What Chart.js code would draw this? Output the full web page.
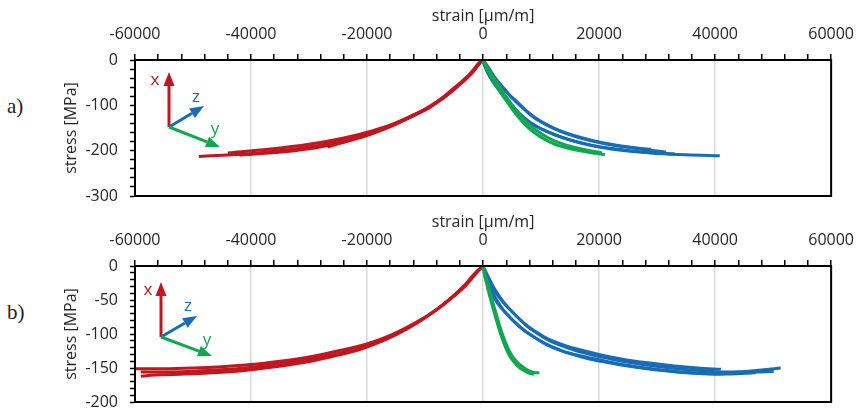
<!DOCTYPE html>
<html>
<head>
<meta charset="utf-8">
<script src="https://cdn.jsdelivr.net/npm/chart.js@4"></script>
<style>
  body { margin: 0; background: #fff; width: 866px; height: 410px; position: relative; overflow: hidden; }
  canvas { position: absolute; left: 0; }
  .tag { position: absolute; left: 7px; font-family: 'Liberation Serif', serif; font-size: 21px; color: #222; }
</style>
</head>
<body>
<div class="tag" style="top:94px">a)</div>
<canvas id="chartA" width="866" height="206" style="top:0"></canvas>
<div class="tag" style="top:300px">b)</div>
<canvas id="chartB" width="866" height="204" style="top:206px"></canvas>
<script>
// strain [µm/m], stress [MPa] pairs
const aRed1 = [[0,0],[-600,-8],[-1700,-26],[-3000,-43],[-4700,-62],[-6300,-79],[-8700,-100],[-12000,-121],[-15500,-141],[-19300,-157],[-24000,-172],[-30000,-186],[-37000,-197],[-44000,-205]];
const aRed2 = [[0,0],[-700,-8],[-1850,-26],[-3200,-44],[-5000,-64],[-6700,-82],[-9100,-104],[-12500,-126],[-16100,-147],[-19900,-164],[-25000,-180],[-31200,-194],[-39800,-206],[-49000,-213]];
const aRed3 = [[0,0],[-800,-8],[-2000,-27],[-3500,-46],[-5400,-67],[-7200,-86],[-9700,-107],[-13100,-130],[-16900,-152],[-20800,-170],[-26000,-187],[-32500,-200],[-42000,-210]];
const aRed4 = [[0,0],[-750,-8],[-1900,-26],[-3300,-44],[-5200,-64],[-6900,-82],[-9400,-104],[-12800,-127],[-16500,-148],[-20400,-166],[-24000,-181],[-26800,-192]];
const aGreen1 = [[0,0],[300,-10],[1000,-28],[2000,-50],[3050,-71],[4500,-99],[5900,-123],[7300,-143],[8800,-160],[10500,-174],[12200,-185],[14500,-194],[17000,-201],[19500,-206],[21000,-209]];
const aGreen2 = [[0,0],[500,-10],[1300,-28],[2400,-50],[3500,-72],[5000,-99],[6500,-123],[8000,-143],[9600,-159],[11300,-172],[13200,-183],[15500,-192],[18000,-199],[20500,-205]];
const aBlue1 = [[0,0],[500,-12],[1500,-33],[3000,-55],[4500,-76],[6000,-94],[8000,-118],[10000,-136],[12500,-152],[15500,-166],[19000,-178],[23000,-188],[26500,-194],[29000,-197]];
const aBlue2 = [[0,0],[800,-14],[1900,-36],[3400,-60],[5000,-84],[6600,-103],[8600,-125],[10800,-142],[13400,-158],[16500,-171],[20000,-182],[24000,-191],[28000,-198],[31500,-203]];
const aBlue3 = [[0,0],[300,-14],[1200,-38],[2700,-66],[4200,-92],[5800,-114],[7800,-136],[10000,-152],[12600,-166],[15800,-179],[19500,-190],[24000,-198],[28500,-204],[33000,-207]];
const aBlue4 = [[0,0],[600,-18],[1600,-42],[3100,-70],[4700,-96],[6300,-118],[8400,-140],[10700,-156],[13400,-170],[16800,-183],[20500,-193],[25000,-201],[30000,-206],[35000,-209],[40800,-211]];

const bRed1 = [[0,0],[-900,-8],[-3000,-29],[-6300,-53],[-9000,-70],[-12000,-85],[-15500,-100],[-19500,-113],[-24500,-124],[-29500,-133],[-35000,-140],[-40000,-145],[-45000,-148],[-50000,-150],[-55000,-151],[-60000,-151]];
const bRed2 = [[0,0],[-1000,-8],[-3300,-30],[-6700,-56],[-9500,-73],[-12600,-89],[-16000,-104],[-20300,-118],[-25000,-129],[-30500,-138],[-36000,-145],[-41000,-150],[-46000,-153],[-51000,-155],[-59000,-156]];
const bRed3 = [[0,0],[-1100,-8],[-3500,-31],[-7100,-58],[-10000,-76],[-13200,-93],[-16700,-108],[-21000,-122],[-26000,-133],[-31000,-142],[-36500,-149],[-41500,-154],[-46500,-157],[-51500,-159],[-56000,-160],[-59000,-162]];
const bGreen1 = [[0,0],[300,-10],[700,-22],[1340,-43],[1900,-60],[2490,-77],[3050,-93],[3630,-107],[4200,-119],[4770,-129],[5600,-139],[6480,-146],[7300,-151],[8200,-155],[9000,-157],[9700,-157]];
const bGreen2 = [[0,0],[200,-10],[500,-22],[1100,-43],[1650,-60],[2250,-78],[2800,-94],[3350,-108],[3900,-120],[4500,-131],[5300,-141],[6200,-149],[7100,-154],[8000,-158],[8800,-159]];
const bBlue1 = [[0,0],[600,-14],[1500,-30],[3050,-49],[4500,-63],[5900,-75],[7300,-86],[8770,-95],[10500,-104],[12200,-111],[14200,-117],[16200,-122],[20000,-130],[24000,-137],[28000,-142],[33000,-147],[37000,-150],[41000,-152]];
const bBlue2 = [[0,0],[900,-16],[2000,-34],[3500,-53],[5000,-67],[6400,-79],[7800,-90],[9300,-99],[11000,-108],[12800,-115],[14800,-121],[17000,-127],[20500,-134],[24500,-141],[28500,-146],[33500,-151],[38000,-154],[42000,-156],[46000,-156],[50100,-155]];
const bBlue3 = [[0,0],[400,-18],[1200,-36],[2600,-56],[4100,-71],[5600,-84],[7100,-95],[8700,-104],[10400,-113],[12300,-120],[14400,-127],[16700,-132],[20000,-138],[24000,-145],[28000,-150],[33000,-155],[38000,-158],[41000,-159],[44500,-158],[47000,-157]];
const bBlue4 = [[0,0],[700,-20],[1700,-40],[3100,-60],[4700,-76],[6200,-88],[7800,-99],[9500,-108],[11300,-117],[13300,-124],[15500,-130],[18000,-136],[21500,-142],[25500,-148],[30000,-153],[35000,-157],[40000,-159],[44000,-156],[48000,-153],[51300,-150]];

const xTickLabels = [-60000, -40000, -20000, 0, 20000, 40000, 60000];
const yTickLabelsA = [0, -100, -200, -300];
const yTickLabelsB = [0, -50, -100, -150, -200];

const RED = '#C0161F';
const GREEN = '#13A650';
const BLUE = '#176CB5';
const TEXT = '#262626';
const FONT = "'Open Sans', sans-serif";

const framePlugin = {
    id: 'frame',
    afterDatasetsDraw(chart) {
        const { ctx, chartArea: a } = chart;
        ctx.save();
        ctx.strokeStyle = '#000';
        ctx.lineWidth = 2;
        ctx.strokeRect(a.left, a.top, a.right - a.left, a.bottom - a.top);
        ctx.restore();
    }
};

function drawArrow(ctx, x0, y0, x1, y1, color) {
    const ang = Math.atan2(y1 - y0, x1 - x0);
    const head = 14, half = 5.5;
    const bx = x1 - head * Math.cos(ang), by = y1 - head * Math.sin(ang);
    ctx.strokeStyle = color;
    ctx.lineWidth = 3;
    ctx.beginPath();
    ctx.moveTo(x0, y0);
    ctx.lineTo(bx, by);
    ctx.stroke();
    ctx.fillStyle = color;
    ctx.beginPath();
    ctx.moveTo(x1, y1);
    ctx.lineTo(bx + half * Math.sin(ang), by - half * Math.cos(ang));
    ctx.lineTo(bx - half * Math.sin(ang), by + half * Math.cos(ang));
    ctx.closePath();
    ctx.fill();
}

// little x/y/z orientation sketch in the top-left corner of each panel
const axesIconPlugin = {
    id: 'axesIcon',
    afterDatasetsDraw(chart, args, opts) {
        const { ctx, chartArea: a } = chart;
        const p = (q) => [a.left + q[0], a.top + q[1]];
        const o = p(opts.origin);
        ctx.save();
        [['x', RED], ['z', BLUE], ['y', GREEN]].forEach(([k, c]) => {
            const t = p(opts.tips[k]);
            drawArrow(ctx, o[0], o[1], t[0], t[1], c);
            const l = p(opts.labels[k]);
            ctx.fillStyle = c;
            ctx.font = "17px 'Open Sans', sans-serif";
            ctx.textAlign = 'center';
            ctx.textBaseline = 'middle';
            ctx.fillText(k, l[0], l[1]);
        });
        ctx.restore();
    }
};

function toPoints(arr) {
    return arr.map(p => ({ x: p[0], y: p[1] }));
}

function makePanel(id, series, yMin, yStep, yLabels, padBottom, icon) {
    const datasets = series.map(s => ({
        data: toPoints(s[0]),
        borderColor: s[1],
        borderWidth: 3,
        pointRadius: 0,
        fill: false,
        cubicInterpolationMode: 'monotone'
    }));
    return new Chart(document.getElementById(id), {
        type: 'line',
        data: { datasets: datasets },
        plugins: [framePlugin, axesIconPlugin],
        options: {
            responsive: false,
            animation: false,
            layout: { padding: { left: 0, right: 31, top: 0, bottom: padBottom } },
            plugins: {
                legend: { display: false },
                tooltip: { enabled: false },
                axesIcon: icon
            },
            scales: {
                x: {
                    type: 'linear',
                    position: 'top',
                    min: -60000,
                    max: 60000,
                    afterFit: s => { s.height = 60; },
                    ticks: {
                        stepSize: 4000,
                        autoSkip: false,
                        maxRotation: 0,
                        padding: 12,
                        color: TEXT,
                        font: { family: FONT, size: 16, lineHeight: 1 },
                        callback: v => xTickLabels.includes(v) ? String(v) : ''
                    },
                    grid: {
                        color: c => (c.tick && xTickLabels.includes(c.tick.value)) ? '#d9d9d9' : 'rgba(0,0,0,0)',
                        lineWidth: 1.5,
                        tickColor: '#000',
                        tickLength: 6,
                        tickWidth: 1.5
                    },
                    border: { color: '#000', width: 2 },
                    title: {
                        display: true,
                        text: 'strain [µm/m]',
                        color: TEXT,
                        font: { family: FONT, size: 16 },
                        padding: { top: 7, bottom: 0 }
                    }
                },
                y: {
                    min: yMin,
                    max: 0,
                    afterFit: s => { s.width = 135; s.paddingTop = 8; s.paddingBottom = 8; },
                    ticks: {
                        stepSize: yStep,
                        autoSkip: false,
                        padding: 12,
                        color: TEXT,
                        font: { family: FONT, size: 16, lineHeight: 1 },
                        callback: v => yLabels.includes(v) ? String(v) : ''
                    },
                    grid: {
                        drawOnChartArea: false,
                        tickColor: '#000',
                        tickLength: 5,
                        tickWidth: 1.5
                    },
                    border: { color: '#000', width: 2 },
                    title: {
                        display: true,
                        text: 'stress [MPa]',
                        color: TEXT,
                        font: { family: FONT, size: 16 },
                        padding: { top: 62, bottom: 0 }
                    }
                }
            }
        }
    });
}

makePanel('chartA', [
    [aGreen1, GREEN], [aGreen2, GREEN],
    [aBlue1, BLUE], [aBlue2, BLUE], [aBlue3, BLUE], [aBlue4, BLUE],
    [aRed1, RED], [aRed2, RED], [aRed3, RED], [aRed4, RED]
], -300, 20, yTickLabelsA, 10, {
    origin: [34, 67], tips: { x: [34, 12], z: [69, 46], y: [85, 87] },
    labels: { x: [20, 20], z: [61, 37], y: [80, 69] }
});

makePanel('chartB', [
    [bGreen1, GREEN], [bGreen2, GREEN],
    [bBlue1, BLUE], [bBlue2, BLUE], [bBlue3, BLUE], [bBlue4, BLUE],
    [bRed1, RED], [bRed2, RED], [bRed3, RED]
], -200, 10, yTickLabelsB, 8, {
    origin: [26, 71], tips: { x: [26, 16], z: [62, 50], y: [77, 90] },
    labels: { x: [13, 24], z: [53, 40], y: [72, 74] }
});
</script>
</body>
</html>
